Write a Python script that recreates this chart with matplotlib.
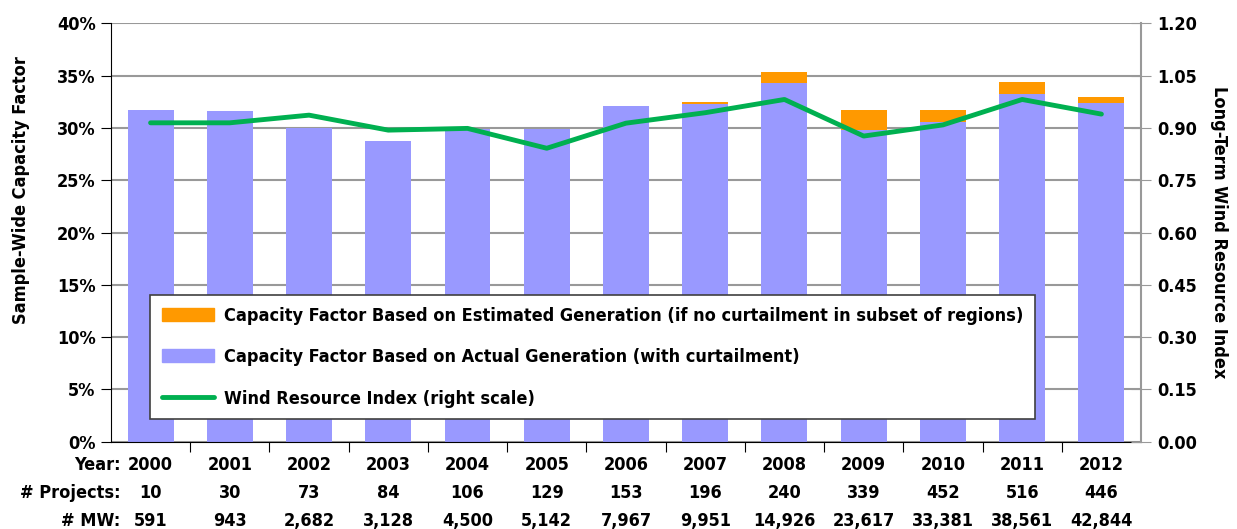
import matplotlib.pyplot as plt
import matplotlib.transforms as mtransforms
from matplotlib.patches import Patch
from matplotlib.lines import Line2D

plt.rcParams['font.family'] = ['DejaVu Sans']
plt.rcParams['font.stretch'] = 'condensed'
plt.rcParams['font.weight'] = 'bold'
plt.rcParams['axes.labelweight'] = 'bold'

years = ['2000', '2001', '2002', '2003', '2004', '2005', '2006',
         '2007', '2008', '2009', '2010', '2011', '2012']
projects = ['10', '30', '73', '84', '106', '129', '153', '196', '240', '339', '452', '516', '446']
mw = ['591', '943', '2,682', '3,128', '4,500', '5,142', '7,967', '9,951',
      '14,926', '23,617', '33,381', '38,561', '42,844']

# capacity factor (%) with curtailment, and estimated without curtailment
cf_actual = [31.7, 31.6, 30.0, 28.8, 29.9, 29.9, 32.1, 32.3, 34.3, 29.8, 30.6, 33.3, 32.4]
cf_estimated = [31.7, 31.6, 30.0, 28.8, 29.9, 29.9, 32.1, 32.5, 35.4, 31.7, 31.7, 34.4, 33.0]
wind_index = [0.915, 0.915, 0.937, 0.894, 0.899, 0.842, 0.914, 0.944, 0.982, 0.877, 0.909, 0.982, 0.940]

purple = '#9999FF'
orange = '#FF9900'
green = '#00B050'
gridc = '#999999'

fig = plt.figure(figsize=(12.37, 5.29), dpi=100)
ax = fig.add_axes([0.0897, 0.165, 0.8327, 0.7906])
x = list(range(len(years)))
extra = [e - a for e, a in zip(cf_estimated, cf_actual)]

ax.bar(x, cf_actual, width=0.58, color=purple, zorder=2)
ax.bar(x, extra, bottom=cf_actual, width=0.58, color=orange, zorder=2)
ax.set_ylim(0, 40)
ax.set_xlim(-0.5, len(years) - 0.5)
ax.set_yticks(range(0, 41, 5))
ax.set_yticklabels([f'{v}%' for v in range(0, 41, 5)])
ax.yaxis.grid(True, color=gridc, lw=1.5, zorder=0)
ax.set_axisbelow(True)
ax.set_xticks([i + 0.5 for i in x[:-1]])
ax.set_xticklabels([])
ax.tick_params(axis='x', length=7, direction='out', color='black')
ax.tick_params(axis='y', labelsize=13, length=7, direction='out', pad=4)
ax.spines['top'].set_visible(False)
ax.spines['right'].set_visible(False)
ax.spines['left'].set_color('black')
ax.spines['bottom'].set_color('black')
ax.set_ylabel('Sample-Wide Capacity Factor', fontsize=13)
ax.yaxis.set_label_coords(-0.079, 0.602)

ax2 = ax.twinx()
ax2.plot(x, wind_index, color=green, lw=3.5, solid_capstyle='round', solid_joinstyle='round', zorder=3)
ax2.set_ylim(0, 1.2)
ax2.set_yticks([i * 0.15 for i in range(9)])
ax2.set_yticklabels([f'{i * 0.15:.2f}' for i in range(9)])
ax2.tick_params(axis='y', labelsize=13, length=14, direction='inout', color=gridc, pad=5)
for s in ['top', 'left', 'bottom']:
    ax2.spines[s].set_visible(False)
ax2.spines['right'].set_color(gridc)
ax2.spines['right'].set_linewidth(1.5)
ax2.set_ylabel('Long-Term Wind Resource Index', fontsize=13, rotation=-90, labelpad=22)

# table under the axis
trans = mtransforms.blended_transform_factory(ax.transData, ax.transAxes)
rows = [('Year:', years, -0.056), ('# Projects:', projects, -0.123), ('# MW:', mw, -0.189)]
for label, vals, yy in rows:
    ax.text(-0.38, yy, label, transform=trans, ha='right', va='center', fontsize=13)
    for i, v in enumerate(vals):
        ax.text(i, yy, v, transform=trans, ha='center', va='center', fontsize=13)

handles = [Patch(color=orange), Patch(color=purple),
           Line2D([], [], color=green, lw=3.5, solid_capstyle='round')]
labels = ['Capacity Factor Based on Estimated Generation (if no curtailment in subset of regions)',
          'Capacity Factor Based on Actual Generation (with curtailment)',
          'Wind Resource Index (right scale)']
leg = ax2.legend(handles, labels, loc='upper left', bbox_to_anchor=(0.038, 0.351),
                 fontsize=13, frameon=True, fancybox=False, framealpha=1,
                 edgecolor='#404040', labelspacing=1.3, handlelength=2.9,
                 handleheight=0.7, handletextpad=0.55, borderpad=0.65,
                 borderaxespad=0)
leg.get_frame().set_linewidth(1.2)

fig.savefig('out.png', dpi=100)
